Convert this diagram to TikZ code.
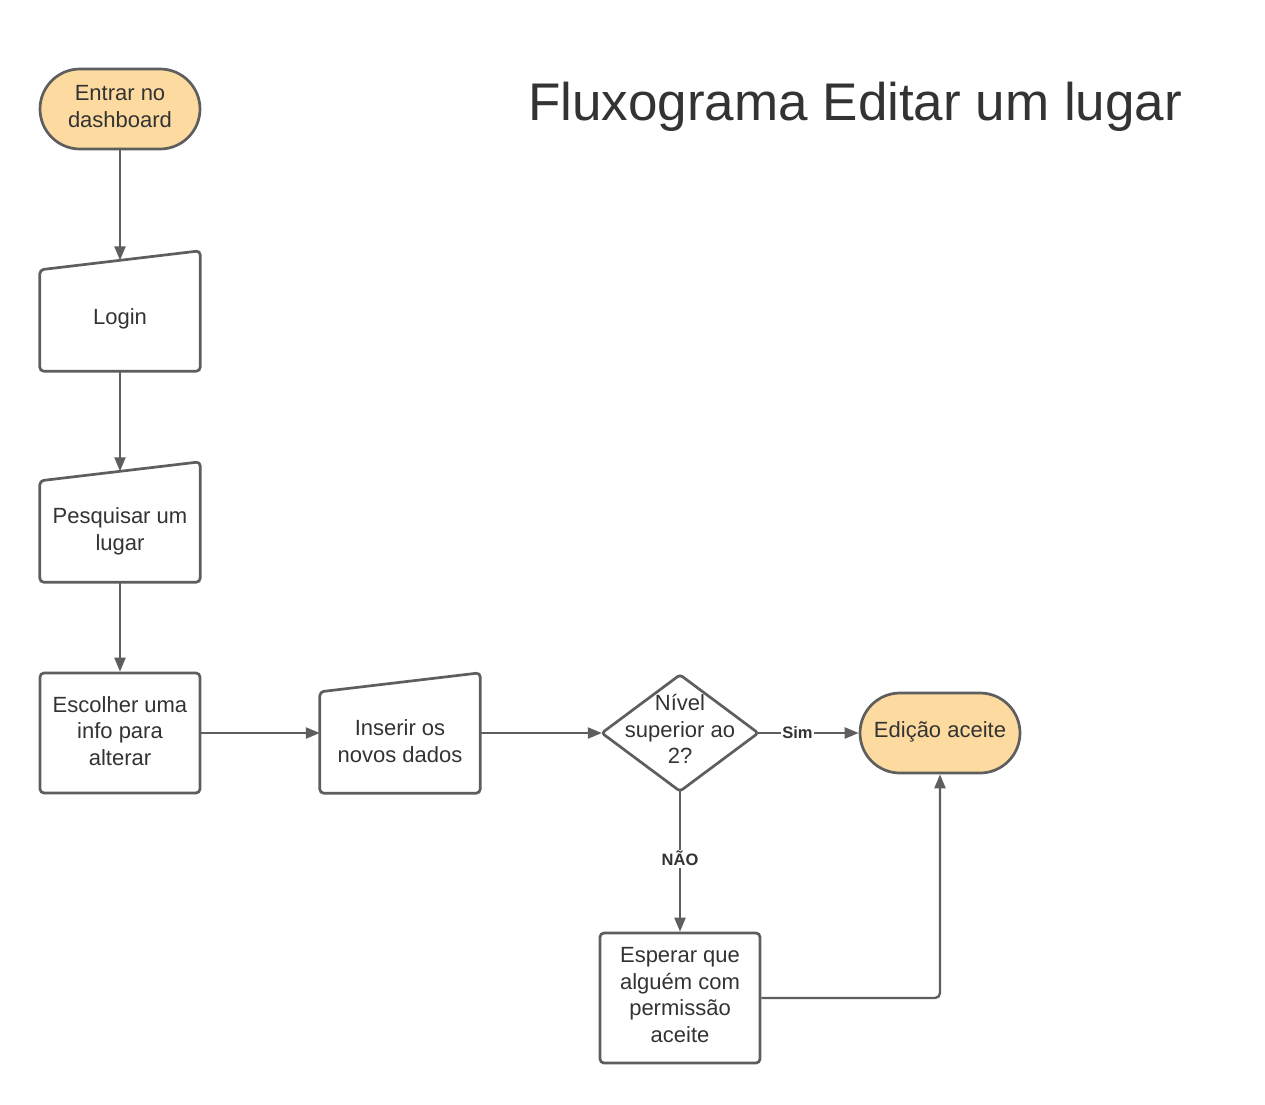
\documentclass[tikz,border=0pt]{standalone}
\usepackage{fontspec}
\setmainfont{Liberation Sans}
\usetikzlibrary{arrows.meta,calc}
\definecolor{linec}{HTML}{5E5E5E}
\definecolor{txtc}{HTML}{333333}
\definecolor{termfill}{HTML}{FCDAA0}
\tikzset{
  base/.style={font=\fontsize{22}{26.5}\selectfont, text=txtc, align=center, inner sep=0pt},
  term/.style={base, draw=linec, line width=2.7pt, fill=termfill, rounded corners=40pt, minimum width=160pt, minimum height=80pt},
  procbox/.style={base, draw=linec, line width=2.7pt, fill=white, rounded corners=4pt, minimum width=160pt},
  ghost/.style={base, minimum width=160pt},
  shp/.style={draw=linec, line width=2.7pt, rounded corners=4pt, fill=white},
  arr/.style={draw=linec, line width=2.3pt, -{Triangle[length=14pt,width=11pt]}},
  lbl/.style={font=\fontsize{16.5}{18}\selectfont\bfseries, text=txtc, fill=white, inner sep=1.5pt}
}
\begin{document}
\begin{tikzpicture}[x=1pt,y=-1pt]
\useasboundingbox (0,0) rectangle (1265,1104);
\fill[white] (0,0) rectangle (1265,1104);

\node[font=\fontsize{53}{60}\selectfont, text=txtc, anchor=base west, inner sep=0pt] (title) at (528,120) {Fluxograma Editar um lugar};

\node[term] (start) at (120,109) {};
\node[base] (starttxt) at (120,106.5) {Entrar no\\dashboard};

% Login (manual input)
\node[ghost, minimum height=101pt] (login) at (120,320.5) {};
\draw[shp] (login.north west) -- ($(login.north east)+(0,-19)$) -- (login.south east) -- (login.south west) -- cycle;
\node[base] (logintxt) at (120,318.5) {Login};
\coordinate (logintop) at ($(login.north)+(0,-9.5)$);

% Pesquisar (manual input)
\node[ghost, minimum height=101pt] (pesq) at (120,531.5) {};
\draw[shp] (pesq.north west) -- ($(pesq.north east)+(0,-19)$) -- (pesq.south east) -- (pesq.south west) -- cycle;
\node[base] (pesqtxt) at (pesq.center) {Pesquisar um\\lugar};
\coordinate (pesqtop) at ($(pesq.north)+(0,-9.5)$);

\node[procbox, minimum height=120pt] (escolher) at (120,733) {};
\node[base] (escolhertxt) at (120,731) {Escolher uma\\info para\\alterar};

% Inserir (manual input)
\node[ghost, minimum height=101pt] (inserir) at (400,742.5) {};
\draw[shp] (inserir.north west) -- ($(inserir.north east)+(0,-19)$) -- (inserir.south east) -- (inserir.south west) -- cycle;
\node[base] (inserirtxt) at ($(inserir.center)+(0,-1.5)$) {Inserir os\\novos dados};

% Decision
\node[base, minimum width=156pt, minimum height=116pt] (dia) at (680,733) {};
\draw[shp, rounded corners=3pt] (dia.north) -- (dia.east) -- (dia.south) -- (dia.west) -- cycle;
\node[base] (diatxt) at ($(dia.center)+(0,-4)$) {Nível\\superior ao\\2?};

\node[term] (edicao) at (940,733) {};
\node[base] (edicaotxt) at (940,731.5) {Edição aceite};

\node[procbox, minimum height=130pt] (esperar) at (680,998) {};
\node[base] (esperartxt) at (680,995) {Esperar que\\alguém com\\permissão\\aceite};

% connectors
\draw[arr] (start.south) -- (logintop);
\draw[arr] (login.south) -- (pesqtop);
\draw[arr] (pesq.south) -- (escolher.north);
\draw[arr] (escolher.east) -- (escolher.east -| inserir.west);
\draw[arr] (dia.west -| inserir.east) -- (dia.west);
\draw[arr] (dia.east) -- node[lbl, pos=0.39] {Sim} (edicao.west);
\draw[arr] (dia.south) -- node[lbl, pos=0.48] {NÃO} (esperar.north);
\draw[arr, rounded corners=5pt] (esperar.east) -| (edicao.south);
\end{tikzpicture}
\end{document}
